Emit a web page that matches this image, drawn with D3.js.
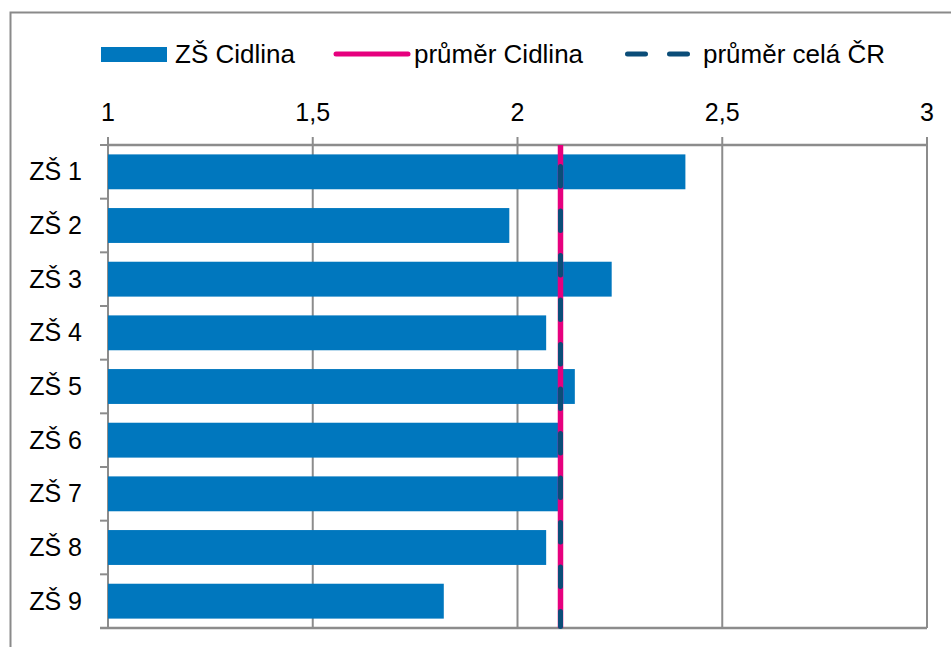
<!DOCTYPE html>
<html>
<head>
<meta charset="utf-8">
<script src="https://cdn.jsdelivr.net/npm/d3@7"></script>
<style>
    body { margin: 0; background: #fff; }
    svg { display: block; font-family: "Liberation Sans", Arial, sans-serif; }
</style>
</head>
<body>
<div id="chart"></div>
<script>
// Chart data
const schools = ["ZŠ 1", "ZŠ 2", "ZŠ 3", "ZŠ 4", "ZŠ 5", "ZŠ 6", "ZŠ 7", "ZŠ 8", "ZŠ 9"];
const schoolValues = [2.41, 1.98, 2.23, 2.07, 2.14, 2.10, 2.10, 2.07, 1.82];
const avgCidlina = 2.105;
const avgCR = 2.105;
const xTicks = [1, 1.5, 2, 2.5, 3];
const legendLabels = ["ZŠ Cidlina", "průměr Cidlina", "průměr celá ČR"];

const width = 951, height = 647;
const margin = { top: 145, right: 24, bottom: 19, left: 108 };

const blue = "#0077be", pink = "#e6007e", navy = "#0b4d78", gridGray = "#8c8c8c";

const svg = d3.select("#chart").append("svg")
    .attr("width", width)
    .attr("height", height);

// Outer chart border (runs off the right/bottom edge)
svg.append("rect")
    .attr("x", 10.5).attr("y", 12.5)
    .attr("width", width).attr("height", height)
    .attr("fill", "none")
    .attr("stroke", "#8a8a8a")
    .attr("stroke-width", 2);

const x = d3.scaleLinear()
    .domain([1, 3])
    .range([margin.left, width - margin.right]);

const y = d3.scaleBand()
    .domain(schools)
    .range([margin.top, height - margin.bottom])
    .paddingInner(0.35)
    .paddingOuter(0.175);

const yOuter = d3.scaleBand()
    .domain(schools)
    .range([margin.top, height - margin.bottom]);

// Vertical gridlines
svg.append("g")
    .selectAll("line")
    .data(xTicks)
    .join("line")
    .attr("x1", d => x(d)).attr("x2", d => x(d))
    .attr("y1", margin.top - 8).attr("y2", height - margin.bottom)
    .attr("stroke", gridGray)
    .attr("stroke-width", 2);

// Top axis line
svg.append("line")
    .attr("x1", x(1)).attr("x2", x(3))
    .attr("y1", margin.top).attr("y2", margin.top)
    .attr("stroke", gridGray).attr("stroke-width", 2.5);

// Bottom line
svg.append("line")
    .attr("x1", x(1) - 8).attr("x2", x(3))
    .attr("y1", height - margin.bottom).attr("y2", height - margin.bottom)
    .attr("stroke", gridGray).attr("stroke-width", 2.5);

// Left category ticks at band boundaries
const boundaries = schools.map(s => yOuter(s));
svg.append("g")
    .selectAll("line")
    .data(boundaries)
    .join("line")
    .attr("x1", x(1) - 8).attr("x2", x(1))
    .attr("y1", d => d).attr("y2", d => d)
    .attr("stroke", gridGray).attr("stroke-width", 2);

// Tick labels on top
svg.append("g")
    .selectAll("text")
    .data(xTicks)
    .join("text")
    .attr("x", d => x(d))
    .attr("y", 121)
    .attr("text-anchor", "middle")
    .attr("font-size", 25)
    .attr("fill", "#000")
    .text(d => String(d).replace(".", ","));

// Category labels
svg.append("g")
    .selectAll("text")
    .data(schools)
    .join("text")
    .attr("x", 82)
    .attr("y", d => yOuter(d) + yOuter.bandwidth() / 2 + 8.5)
    .attr("text-anchor", "end")
    .attr("font-size", 25)
    .attr("fill", "#000")
    .text(d => d);

// Bars
svg.append("g")
    .selectAll("rect")
    .data(schools.map((s, i) => ({ s, v: schoolValues[i] })))
    .join("rect")
    .attr("x", x(1))
    .attr("y", d => y(d.s))
    .attr("width", d => x(d.v) - x(1))
    .attr("height", y.bandwidth())
    .attr("fill", blue);

// Average lines
svg.append("line")
    .attr("x1", x(avgCidlina)).attr("x2", x(avgCidlina))
    .attr("y1", margin.top).attr("y2", height - margin.bottom)
    .attr("stroke", pink).attr("stroke-width", 5.5);

svg.append("line")
    .attr("x1", x(avgCR)).attr("x2", x(avgCR))
    .attr("y1", margin.top + 21.5).attr("y2", height - margin.bottom - 1.5)
    .attr("stroke", navy).attr("stroke-width", 5)
    .attr("stroke-linecap", "round")
    .attr("stroke-dasharray", "19.5 25");

// Legend
const legend = svg.append("g").attr("font-size", 26).attr("fill", "#000");

legend.append("rect")
    .attr("x", 101).attr("y", 47)
    .attr("width", 66).attr("height", 15)
    .attr("fill", blue);
legend.append("text").attr("x", 175).attr("y", 63).text(legendLabels[0]);

legend.append("line")
    .attr("x1", 336).attr("x2", 408)
    .attr("y1", 54).attr("y2", 54)
    .attr("stroke", pink).attr("stroke-width", 5)
    .attr("stroke-linecap", "round");
legend.append("text").attr("x", 414).attr("y", 63).text(legendLabels[1]);

legend.append("line")
    .attr("x1", 627.5).attr("x2", 690)
    .attr("y1", 54).attr("y2", 54)
    .attr("stroke", navy).attr("stroke-width", 5)
    .attr("stroke-linecap", "round")
    .attr("stroke-dasharray", "18 24");
legend.append("text").attr("x", 703).attr("y", 63).text(legendLabels[2]);
</script>
</body>
</html>
